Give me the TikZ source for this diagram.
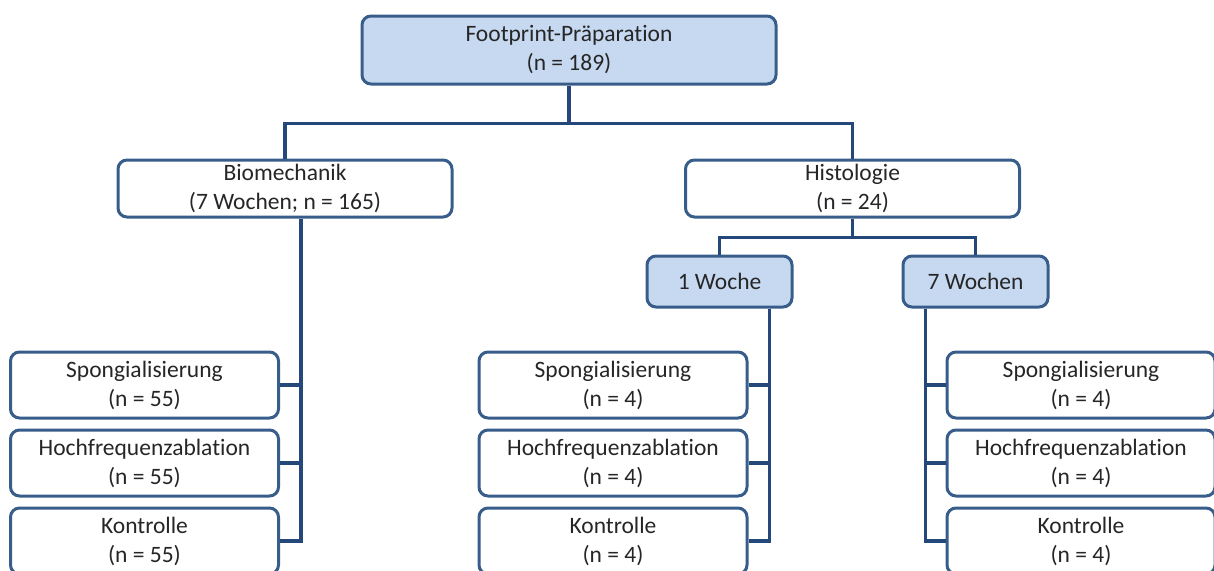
\documentclass[tikz,border=0pt]{standalone}
\usepackage{fontspec}
\setmainfont{Carlito}[Ligatures=NoCommon]
\definecolor{boxline}{RGB}{56,93,138}
\definecolor{boxfill}{RGB}{198,217,241}
\definecolor{treeline}{RGB}{36,72,122}

\begin{document}
\begin{tikzpicture}[x=1pt, y=-1pt, font=\fontsize{23.5}{29}\selectfont,
    box/.style={draw=boxline, line width=3pt, rounded corners=9pt, fill=white,
      align=center, inner sep=0pt, text=black!85},
    group/.style={box, fill=boxfill},
    leaf/.style={box, minimum width=268pt, minimum height=66pt},
    conn/.style={draw=treeline, line width=3.5pt}]
  \clip (0,0) rectangle (1214,570);

  \node (prep) at (569,50) [group, minimum width=414pt, minimum height=68pt]
    {Footprint-Präparation\\(n = 189)};
  \node (bio) at (285,188.5) [box, minimum width=334pt, minimum height=57pt]
    {Biomechanik\\(7 Wochen; n = 165)};
  \node (histo) at (852.5,188.5) [box, minimum width=334pt, minimum height=57pt]
    {Histologie\\(n = 24)};
  \node (w1) at (719.5,281.5) [group, minimum width=145pt, minimum height=51pt] {1 Woche};
  \node (w7) at (975.5,281.5) [group, minimum width=145pt, minimum height=51pt] {7 Wochen};

  \foreach \g/\cx/\n in {L/144.5/55, M/613/4, R/1081/4}{
    \foreach \r/\cy/\t in {1/385/Spongialisierung, 2/463/Hochfrequenzablation, 3/541/Kontrolle}
      \node (\g\r) at (\cx,\cy) [leaf] {\t\\(n = \n)};
  }

  \draw[conn] (prep.south) -- ++(0,38) -| (bio.north);
  \draw[conn] (prep.south) -- ++(0,38) -| (histo.north);
  \draw[conn] (histo.south) -- ++(0,19) -| (w1.north);
  \draw[conn] (histo.south) -- ++(0,19) -| (w7.north);
  \foreach \r in {1,2,3}{
    \draw[conn] ([xshift=16pt]bio.south) |- (L\r.east);
    \draw[conn] ([xshift=50pt]w1.south) |- (M\r.east);
    \draw[conn] ([xshift=-50pt]w7.south) |- (R\r.west);
  }
\end{tikzpicture}
\end{document}
